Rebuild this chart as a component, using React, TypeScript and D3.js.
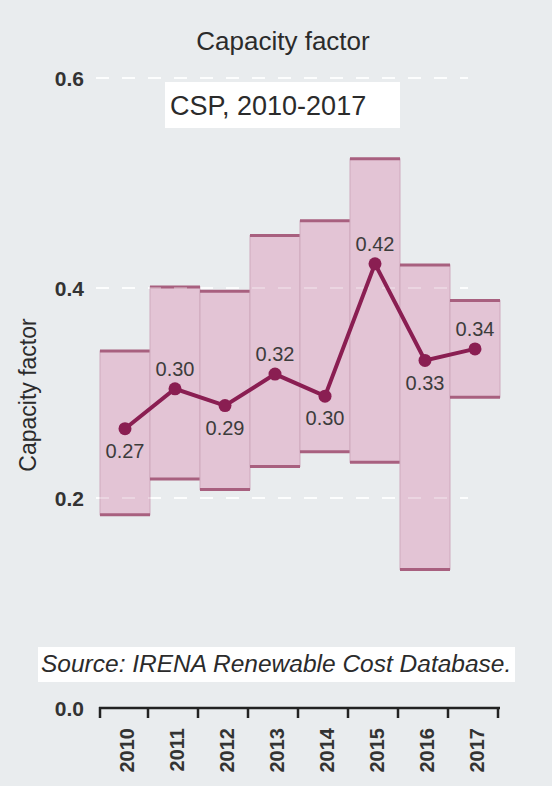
import React from "react";
import * as d3 from "d3";

// Capacity factor of CSP plants, 2010-2017
const years = ["2010", "2011", "2012", "2013", "2014", "2015", "2016", "2017"];
// weighted average per year
const average = [0.266, 0.304, 0.288, 0.318, 0.297, 0.423, 0.331, 0.342];
// 5th / 95th percentile range per year
const rangeHigh = [0.34, 0.401, 0.397, 0.45, 0.464, 0.523, 0.422, 0.388];
const rangeLow = [0.184, 0.218, 0.208, 0.23, 0.244, 0.234, 0.132, 0.296];
// label placement: 1 above the point, -1 below
const labelSide = [-1, 1, -1, 1, -1, 1, -1, 1];
const yTicks = [0.0, 0.2, 0.4, 0.6];

const W = 552;
const H = 786;
const FONT = "'Liberation Sans', Arial, sans-serif";

export default function App() {
  const x = d3.scaleBand<string>().domain(years).range([100, 500]).padding(0);
  const y = d3.scaleLinear().domain([0, 0.6]).range([708, 78]);

  const line = d3
    .line<number>()
    .x((_, i) => (x(years[i]) as number) + x.bandwidth() / 2)
    .y((d) => y(d));

  const bw = x.bandwidth();

  const grid = (opacity: number, key: string) =>
    yTicks
      .filter((t) => t > 0)
      .map((t) => (
        <line
          key={key + t}
          x1={96}
          x2={468}
          y1={y(t)}
          y2={y(t)}
          stroke="#ffffff"
          strokeWidth={2}
          strokeDasharray="13,13"
          opacity={opacity}
        />
      ));

  return (
    <svg
      width={W}
      height={H}
      style={{ position: "absolute", left: 0, top: 0, display: "block" }}
      fontFamily={FONT}
    >
      <rect x={0} y={0} width={W} height={H} fill="#e9ecee" />

      {/* title */}
      <text x={283} y={50} textAnchor="middle" fontSize={26} fill="#2b2b2b">
        Capacity factor
      </text>

      {/* gridlines */}
      {grid(0.9, "g")}

      {/* tick labels */}
      {yTicks.map((t) => (
        <text
          key={t}
          x={84}
          y={y(t)}
          dy="0.36em"
          textAnchor="end"
          fontSize={21}
          fontWeight="bold"
          fill="#333"
        >
          {t.toFixed(1)}
        </text>
      ))}

      {/* y axis title */}
      <text
        transform={`translate(36,395) rotate(-90)`}
        textAnchor="middle"
        fontSize={23}
        fill="#2b2b2b"
      >
        Capacity factor
      </text>

      {/* range bars */}
      {years.map((yr, i) => {
        const x0 = x(yr) as number;
        const top = y(rangeHigh[i]);
        const bot = y(rangeLow[i]);
        return (
          <g key={yr}>
            <rect
              x={x0}
              y={top}
              width={bw}
              height={bot - top}
              fill="#e3c4d5"
              stroke="#cfa9bd"
              strokeWidth={1}
            />
            <line x1={x0} x2={x0 + bw} y1={top} y2={top} stroke="#a8607f" strokeWidth={3} />
            <line x1={x0} x2={x0 + bw} y1={bot} y2={bot} stroke="#a8607f" strokeWidth={3} />
          </g>
        );
      })}

      {/* gridlines showing faintly through the bars */}
      {grid(0.3, "o")}

      {/* average line */}
      <path d={line(average) ?? ""} fill="none" stroke="#8a1e52" strokeWidth={4} />
      {average.map((v, i) => {
        const cx = (x(years[i]) as number) + bw / 2;
        return <circle key={i} cx={cx} cy={y(v)} r={6.5} fill="#8a1e52" />;
      })}
      {average.map((v, i) => {
        const cx = (x(years[i]) as number) + bw / 2;
        const cy = y(v) + (labelSide[i] > 0 ? -20 : 22);
        return (
          <text
            key={i}
            x={cx}
            y={cy}
            dy="0.36em"
            textAnchor="middle"
            fontSize={20}
            fill="#3c3c3c"
          >
            {v.toFixed(2)}
          </text>
        );
      })}

      {/* series caption */}
      <rect x={165} y={82} width={235} height={46} fill="#ffffff" />
      <text x={170} y={115} fontSize={27} fill="#2b2b2b">
        CSP, 2010-2017
      </text>

      {/* source note */}
      <rect x={38} y={647} width={477} height={35} fill="#ffffff" />
      <text x={41} y={672} fontSize={24.5} fontStyle="italic" fill="#2b2b2b">
        Source: IRENA Renewable Cost Database.
      </text>

      {/* x axis */}
      <line x1={99} x2={500} y1={708} y2={708} stroke="#222" strokeWidth={2.5} />
      {[...years.map((yr) => x(yr) as number), 500].map((tx, i) => (
        <line
          key={i}
          x1={i === 0 ? 100 : tx - 2}
          x2={i === 0 ? 100 : tx - 2}
          y1={707}
          y2={718}
          stroke="#222"
          strokeWidth={2.5}
        />
      ))}
      {years.map((yr) => (
        <text
          key={yr}
          transform={`translate(${(x(yr) as number) + bw / 2 + 1.5},728) rotate(-90)`}
          textAnchor="end"
          dy="0.36em"
          fontSize={20}
          fontWeight="bold"
          fill="#333"
        >
          {yr}
        </text>
      ))}
    </svg>
  );
}
